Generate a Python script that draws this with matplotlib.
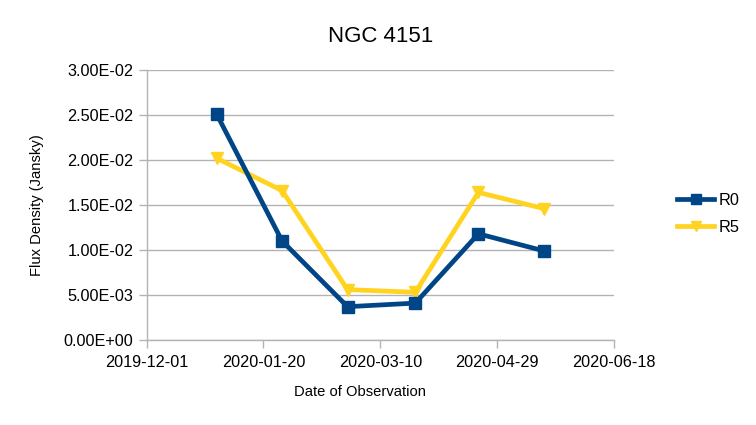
import matplotlib
matplotlib.use("Agg")
import matplotlib.pyplot as plt
import matplotlib.dates as mdates
import numpy as np
import datetime as dt

dates = ["2019-12-31", "2020-01-28", "2020-02-25", "2020-03-25", "2020-04-21", "2020-05-19"]
r0 = [0.0251, 0.0110, 0.0037, 0.0041, 0.0118, 0.0099]
r5 = [0.0202, 0.0166, 0.0056, 0.0053, 0.0164, 0.0146]
xticks = ["2019-12-01", "2020-01-20", "2020-03-10", "2020-04-29", "2020-06-18"]
yticks = [0.0, 0.005, 0.01, 0.015, 0.02, 0.025, 0.03]

plt.rcParams['font.family'] = ['Liberation Sans', 'DejaVu Sans']

fig = plt.figure(figsize=(7.56, 4.25), dpi=100)
ax = fig.add_axes([0.1938, 0.2, 0.8122 - 0.1938, 0.8353 - 0.2])

x = [dt.datetime.strptime(d, "%Y-%m-%d") for d in dates]
xt = [dt.datetime.strptime(d, "%Y-%m-%d") for d in xticks]

ax.plot(x, r0, color="#004586", lw=3.4, marker="s", ms=9.3, label="R0", zorder=3)
ax.plot(x, r5, color="#ffd320", lw=3.4, marker="v", ms=8.8, label="R5", zorder=2)

ax.set_xlim(xt[0], xt[-1])
ax.set_ylim(0, 0.03)
ax.set_xticks(xt)
ax.xaxis.set_major_formatter(mdates.DateFormatter("%Y-%m-%d"))
ax.set_yticks(yticks)
ax.set_yticklabels(["%.2fE%s" % (v * 10 ** (-(int(np.floor(np.log10(v))) if v > 0 else 0)),
                     ("%+03d" % (int(np.floor(np.log10(v))) if v > 0 else 0))) for v in yticks])

for s in ["top", "right"]:
    ax.spines[s].set_visible(False)
for s in ["left", "bottom"]:
    ax.spines[s].set_color("#b3b3b3")
    ax.spines[s].set_linewidth(1)
ax.tick_params(axis="both", colors="#b3b3b3", labelcolor="#000000", labelsize=11.7, length=6, width=1)
ax.tick_params(axis="x", pad=5)
ax.grid(axis="y", color="#b3b3b3", lw=1)
ax.set_axisbelow(True)

ax.set_title("NGC 4151", fontsize=16, pad=20)
ax.set_xlabel("Date of Observation", fontsize=10.6, va="center")
ax.xaxis.set_label_coords(0.4556, -0.193)
ax.set_ylabel("Flux Density (Jansky)", fontsize=10.6, labelpad=14)

fig.legend(loc="center left", bbox_to_anchor=(0.876, 0.497), frameon=False, fontsize=11.7,
           handlelength=2.3, labelspacing=0.75, handletextpad=0.25, markerscale=0.8)

fig.savefig("out.png", dpi=100)
